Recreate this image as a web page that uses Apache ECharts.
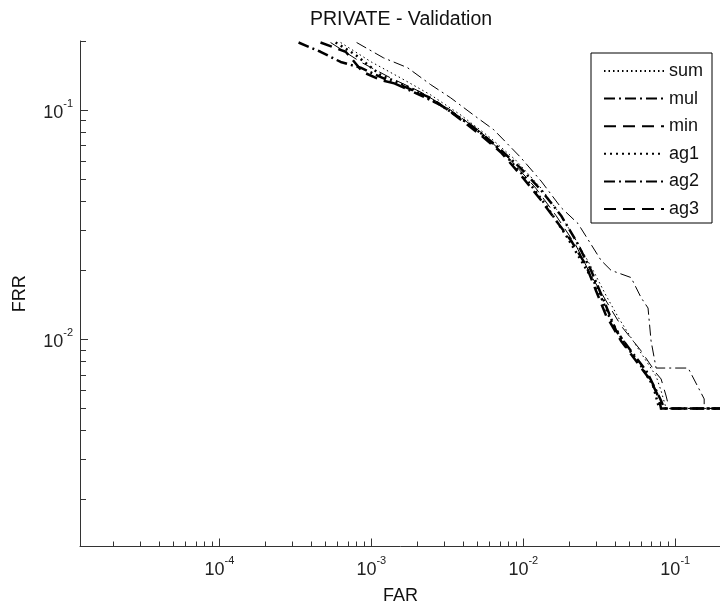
<!DOCTYPE html>
<html><head><meta charset="utf-8">
<script src="https://cdn.jsdelivr.net/npm/echarts@6/dist/echarts.min.js"></script>
<style>html,body{margin:0;padding:0;background:#fff}#c{width:720px;height:603px}</style>
</head><body><div id="c"></div>
<script>
// ---- data: [FAR, FRR] ----
const seriesNames = ['sum', 'mul', 'min', 'ag1', 'ag2', 'ag3'];
const sumData = [[6.28e-4,0.197],[1.0e-3,0.162],[1.56e-3,0.138],[2.46e-3,0.1164],[3.88e-3,0.0951],[6.11e-3,0.0754],[8.93e-3,0.0604],[1.31e-2,0.0456],[1.77e-2,0.0347],[2.33e-2,0.0257],[2.88e-2,0.02],[3.51e-2,0.0155],[4.27e-2,0.0123],[5.28e-2,0.00985],[6.44e-2,0.00805],[7.48e-2,0.00692],[8.07e-2,0.00596],[8.71e-2,0.005],[0.2,0.005]];
const mulData = [[8.0e-4,0.197],[1.2e-3,0.169],[1.73e-3,0.153],[2.46e-3,0.129],[3.33e-3,0.113],[4.72e-3,0.095],[6.4e-3,0.082],[9.64e-3,0.062],[1.31e-2,0.049],[1.77e-2,0.0376],[2.29e-2,0.032],[3.25e-2,0.0221],[3.78e-2,0.020],[5.12e-2,0.0186],[5.96e-2,0.0152],[6.62e-2,0.0137],[6.93e-2,0.00985],[7.48e-2,0.0075],[0.1216,0.0075],[0.155,0.0055],[0.155,0.005],[0.2,0.005]];
const minData = [[5.39e-4,0.197],[8.5e-4,0.162],[1.34e-3,0.138],[2.11e-3,0.1199],[3.33e-3,0.1],[5.25e-3,0.0801],[8.28e-3,0.0604],[1.21e-2,0.0456],[1.64e-2,0.0347],[2.22e-2,0.0257],[2.79e-2,0.019],[3.51e-2,0.0147],[4.40e-2,0.01146],[5.96e-2,0.00891],[7.48e-2,0.00713],[8.07e-2,0.00672],[8.71e-2,0.00566],[9.12e-2,0.005],[0.2,0.005]];
const ag1Data = [[5.82e-4,0.197],[7.88e-4,0.174],[1.15e-3,0.1422],[1.82e-3,0.1247],[2.86e-3,0.1051],[4.52e-3,0.0859],[7.11e-3,0.0668],[1.04e-2,0.0504],[1.41e-2,0.0384],[1.91e-2,0.0284],[2.40e-2,0.0221],[3.01e-2,0.0172],[3.78e-2,0.01205],[4.75e-2,0.00937],[5.96e-2,0.00766],[7.16e-2,0.00626],[7.84e-2,0.005],[0.2,0.005]];
const ag2Data = [[3.32e-4,0.197],[4.63e-4,0.1795],[6.28e-4,0.162],[8.5e-4,0.153],[1.34e-3,0.133],[2.11e-3,0.116],[2.86e-3,0.105],[4.52e-3,0.0859],[6.59e-3,0.0703],[9.64e-3,0.0557],[1.31e-2,0.0447],[1.77e-2,0.0347],[2.22e-2,0.027],[2.79e-2,0.02],[3.40e-2,0.0147],[4.08e-2,0.0109],[5.12e-2,0.0089],[6.44e-2,0.0073],[7.48e-2,0.006],[8.07e-2,0.0054],[8.45e-2,0.005],[0.2,0.005]];
const ag3Data = [[4.63e-4,0.197],[6.78e-4,0.1795],[7.53e-4,0.1655],[8.77e-4,0.1466],[1.15e-3,0.1352],[1.56e-3,0.1286],[2.46e-3,0.1129],[3.33e-3,0.098],[5.25e-3,0.0778],[7.11e-3,0.0655],[9.64e-3,0.052],[1.31e-2,0.0404],[1.64e-2,0.033],[2.06e-2,0.027],[2.59e-2,0.021],[3.01e-2,0.0163],[3.51e-2,0.01267],[4.40e-2,0.00985],[5.53e-2,0.00805],[6.93e-2,0.00658],[7.71e-2,0.00566],[8.07e-2,0.005],[0.2,0.005]];

// ---- ticks ----
const xMajorTicks = [0.0001, 0.001, 0.01, 0.1];
const xMinorTicks = [0.00002,0.00003,0.00004,0.00005,0.00006,0.00007,0.00008,0.00009,
  0.0002,0.0003,0.0004,0.0005,0.0006,0.0007,0.0008,0.0009,
  0.002,0.003,0.004,0.005,0.006,0.007,0.008,0.009,
  0.02,0.03,0.04,0.05,0.06,0.07,0.08,0.09];
const yMajorTicks = [0.01, 0.1];
const yMinorTicks = [0.002,0.003,0.004,0.005,0.006,0.007,0.008,0.009,
  0.02,0.03,0.04,0.05,0.06,0.07,0.08,0.09,0.2];

const FONT = 'Liberation Sans';
const AX = '#333';
const expFmt = v => '{b|10}{s|' + Math.round(Math.log10(v)) + '}';
const rich = {
  b: {fontFamily: FONT, fontSize: 18, lineHeight: 24, color: '#222', verticalAlign: 'bottom'},
  s: {fontFamily: FONT, fontSize: 11, lineHeight: 11, color: '#222', verticalAlign: 'top'}
};

const styles = {
  sum: {width: 1, type: [1.5, 3]},
  mul: {width: 1, type: [11, 4, 2, 4]},
  min: {width: 1, type: [12, 7]},
  ag1: {width: 2.5, type: [2, 4]},
  ag2: {width: 2.5, type: [11, 4, 2, 4]},
  ag3: {width: 2.5, type: [12, 7]}
};
const datas = {sum: sumData, mul: mulData, min: minData, ag1: ag1Data, ag2: ag2Data, ag3: ag3Data};

const chart = echarts.init(document.getElementById('c'), null, {renderer: 'canvas'});
const xMin = 1.21e-5, xMax = 0.2, yMin = 0.00125, yMax = 0.2;

chart.setOption({
  animation: false,
  backgroundColor: '#fff',
  grid: {left: 80, top: 41, width: 641, height: 505.5, containLabel: false, outerBoundsMode: 'none'},
  graphic: [{
    type: 'text', left: 310, top: 10,
    style: {text: 'PRIVATE - Validation', font: '19.5px "Liberation Sans"', fill: '#111'}
  }],
  legend: {
    orient: 'vertical', left: 591, top: 53,
    data: seriesNames,
    backgroundColor: '#fff', borderColor: '#000', borderWidth: 1, borderRadius: 0,
    padding: [9, 9, 5, 12],
    itemWidth: 60, itemHeight: 14, itemGap: 9.6,
    itemStyle: {opacity: 0},
    textStyle: {fontFamily: FONT, fontSize: 18, lineHeight: 18, color: '#111'}
  },
  xAxis: [{
    type: 'log', logBase: 10, min: xMin, max: xMax, position: 'bottom',
    name: 'FAR', nameLocation: 'middle', nameGap: 41,
    nameTextStyle: {fontFamily: FONT, fontSize: 18, color: '#111'},
    axisLine: {show: true, onZero: false, lineStyle: {color: AX, width: 1}},
    axisTick: {show: true, inside: true, length: 8, customValues: xMajorTicks, lineStyle: {color: AX}},
    axisLabel: {customValues: xMajorTicks, formatter: expFmt, rich: rich, margin: 9},
    splitLine: {show: false}, minorTick: {show: false}
  }, {
    type: 'log', logBase: 10, min: xMin, max: xMax, position: 'bottom',
    axisLine: {show: false},
    axisTick: {show: true, inside: true, length: 5, customValues: xMinorTicks, lineStyle: {color: AX}},
    axisLabel: {show: false}, splitLine: {show: false}
  }],
  yAxis: [{
    type: 'log', logBase: 10, min: yMin, max: yMax, position: 'left',
    name: 'FRR', nameLocation: 'middle', nameGap: 51,
    nameTextStyle: {fontFamily: FONT, fontSize: 18, color: '#111'},
    axisLine: {show: true, onZero: false, lineStyle: {color: AX, width: 1}},
    axisTick: {show: true, inside: true, length: 8, customValues: yMajorTicks, lineStyle: {color: AX}},
    axisLabel: {customValues: yMajorTicks, formatter: expFmt, rich: rich, margin: 7},
    splitLine: {show: false}, minorTick: {show: false}
  }, {
    type: 'log', logBase: 10, min: yMin, max: yMax, position: 'left',
    axisLine: {show: false},
    axisTick: {show: true, inside: true, length: 6, customValues: yMinorTicks, lineStyle: {color: AX}},
    axisLabel: {show: false}, splitLine: {show: false}
  }],
  series: seriesNames.map(n => ({
    name: n, type: 'line', xAxisIndex: 0, yAxisIndex: 0,
    data: datas[n], symbol: 'none', showSymbol: false, clip: true,
    color: '#000',
    lineStyle: {color: '#000', width: styles[n].width, type: styles[n].type},
    emphasis: {disabled: true}
  }))
});
</script></body></html>
